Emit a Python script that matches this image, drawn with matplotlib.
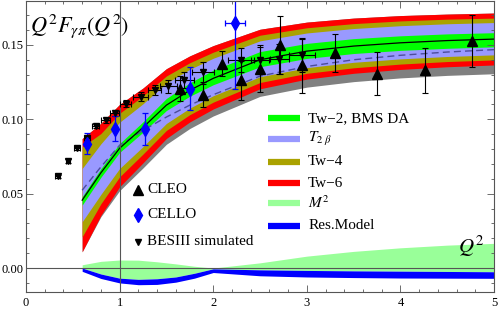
import matplotlib
matplotlib.use("Agg")
import matplotlib.pyplot as plt

plt.rcParams['font.family'] = ['Liberation Serif', 'DejaVu Serif']
plt.rcParams['mathtext.fontset'] = 'stix'

# band nodes in Q^2
q = [0.6, 0.8, 1.0, 1.25, 1.5, 1.75, 2.0, 2.5, 3.0, 3.5, 4.0, 4.5, 5.0]
tw2_line = [.0456, .0640, .0805, .0945, .1095, .1195, .1275, .1400, .1458, .1492, .1514, .1529, .1539]
dash_line = [.0523, .0680, .0825, .0925, .1015, .1095, .1165, .1290, .1355, .1400, .1430, .1452, .1468]
red_top = [.0870, .0973, .1100, .1210, .1340, .1426, .1495, .1605, .1653, .1680, .1697, .1707, .1714]
olive_top = [.0814, .0904, .1040, .1157, .1291, .1380, .1451, .1565, .1615, .1643, .1661, .1673, .1680]
blue_top = [.0669, .0835, .0980, .1104, .1243, .1336, .1410, .1527, .1580, .1610, .1629, .1642, .1650]
green_top = [.0479, .0668, .0837, .0983, .1140, .1245, .1330, .1455, .1510, .1542, .1561, .1574, .1582]
green_bot = [.0423, .0610, .0777, .0913, .1059, .1155, .1232, .1353, .1409, .1442, .1463, .1477, .1487]
blue_bot = [.0311, .0495, .0669, .0816, .0972, .1075, .1158, .1286, .1347, .1383, .1406, .1422, .1433]
olive_bot = [.0210, .0432, .0613, .0766, .0925, .1031, .1115, .1247, .1309, .1346, .1371, .1388, .1399]
red_bot = [.0109, .0354, .0546, .0707, .0871, .0982, .1069, .1205, .1270, .1309, .1335, .1353, .1365]
gray_bot = [.0109, .0345, .0520, .0673, .0832, .0938, .1022, .1154, .1216, .1253, .1278, .1295, .1306]

# small corrections near zero
q_low = [0.6, 0.8, 1.0, 1.2, 1.4, 1.6, 1.8, 2.0, 2.5, 3.0, 3.5, 4.0, 4.5, 5.0]
m2_top = [.0022, .0045, .0054, .0053, .0042, .0028, .0012, .0000, .0035, .0080, .0112, .0136, .0154, .0166]
res_top = [.0000, -.0040, -.0068, -.0076, -.0072, -.0060, -.0035, -.0005, -.0012, -.0016, -.0019, -.0021, -.0023, -.0025]
res_bot = [-.0022, -.0070, -.0100, -.0112, -.0110, -.0095, -.0068, -.0030, -.0052, -.0060, -.0064, -.0067, -.0068, -.0069]

# CLEO
cleo_q = [1.64, 1.89, 2.09, 2.30, 2.50, 2.71, 2.95, 3.30, 3.75, 4.26, 4.76]
cleo_y = [.1206, .1161, .1374, .1262, .1340, .1500, .1362, .1444, .1307, .1329, .1527]
cleo_err = [.0084, .0078, .0084, .0130, .0156, .0196, .0183, .0129, .0144, .0151, .0174]

# CELLO
cello_q = [0.655, 0.948, 1.276, 1.751, 2.232]
cello_y = [.0837, .0937, .0937, .1206, .1650]
cello_err = [.0073, .0084, .0108, .0145, .0444]
cello_xerr = [0, 0, 0, 0, 0.107]

# BESIII simulated
bes_q = [0.337, 0.448, 0.544, 0.651, 0.744, 0.851, 0.948, 1.065, 1.226, 1.376, 1.518, 1.690, 1.893, 2.293, 2.50, 2.707, 2.946]
bes_y = [.0617, .0720, .0807, .0877, .0953, .0993, .1045, .1105, .1150, .1195, .1221, .1266, .1317, .1396, .1396, .1407, .1430]
bes_err = [.0010, .0011, .0012, .0013, .0015, .0017, .0020, .0025, .0030, .0035, .0045, .0055, .0065, .0080, .0090, .0100, .0110]
bes_xerr = [.025, .025, .03, .035, .04, .045, .05, .06, .08, .07, .09, .10, .12, .14, .10, .10, .14]

fig = plt.figure(figsize=(4.98, 3.12), dpi=100)
ax = fig.add_axes([26 / 498, 20 / 312, 468 / 498, 291 / 312])

ax.fill_between(q, gray_bot, red_top, color='#808080', lw=0)
ax.fill_between(q, red_bot, red_top, color='#ff0000', lw=0)
ax.fill_between(q, olive_bot, olive_top, color='#aaa200', lw=0)
ax.fill_between(q, blue_bot, blue_top, color='#9999ff', lw=0)
ax.fill_between(q, green_bot, green_top, color='#00ff00', lw=0)
ax.plot(q, dash_line, color='#4c4c9c', lw=1, dashes=(5, 3))
ax.plot(q, tw2_line, color='black', lw=0.9)

ax.fill_between(q_low, res_top, m2_top, color='#99ff99', lw=0)
ax.fill_between(q_low, res_bot, res_top, color='#0000ff', lw=0)

ax.axhline(0, color='#555555', lw=0.8)
ax.axvline(1, color='#555555', lw=0.8)

ax.errorbar(bes_q, bes_y, yerr=bes_err, xerr=bes_xerr, fmt='v', color='black',
            ms=5, elinewidth=0.8, capsize=2.5, capthick=0.8)
ax.errorbar(cello_q, cello_y, yerr=cello_err, xerr=cello_xerr, fmt='d', color='#0000ff',
            ms=7, elinewidth=0.9, capsize=2.5, capthick=0.9)
ax.errorbar(cleo_q, cleo_y, yerr=cleo_err, fmt='^', color='black',
            ms=7.5, elinewidth=0.8, capsize=2.5, capthick=0.8)

ax.set_xlim(0, 5)
ax.set_ylim(-0.0161, 0.1795)
ax.set_xticks([0, 1, 2, 3, 4, 5])
ax.set_yticks([0.0, 0.05, 0.10, 0.15])
ax.set_yticklabels(['0.00', '0.05', '0.10', '0.15'])
ax.set_xticks([i * 0.2 for i in range(26)], minor=True)
ax.set_yticks([-0.01 + i * 0.01 for i in range(19)], minor=True)
ax.tick_params(which='both', direction='in', top=True, right=True,
               labelsize=9, width=0.6, color='#555555')
ax.tick_params(which='major', length=5)
ax.tick_params(which='minor', length=2.5)
ax.tick_params(axis='y', pad=2)
for s in ax.spines.values():
    s.set_color('#555555')
    s.set_linewidth(0.8)

ax.text(0.04, 0.1625, r'$Q^2F_{\gamma\pi}(Q^2)$', fontsize=16, va='center')
ax.text(4.75, 0.0148, r'$Q^2$', fontsize=15, va='center', ha='center')

# legend: data sets
left_items = [('^', 'black', 7, 'CLEO'), ('d', '#0000ff', 7, 'CELLO'),
              ('v', 'black', 5, 'BESIII simulated')]
left_rows = [0.351, 0.265, 0.173]
for (m, c, s, lab), ya in zip(left_items, left_rows):
    ax.plot([0.239], [ya], m, color=c, ms=s, transform=ax.transAxes)
    ax.text(0.259, ya, lab, fontsize=11, va='center', transform=ax.transAxes)

# legend: bands
right_items = [('#00ff00', 'Tw\u22122, BMS DA'), ('#9999ff', r'$T_{2\ \beta}$'),
               ('#aaa200', 'Tw\u22124'), ('#ff0000', 'Tw\u22126'),
               ('#99ff99', r'$M^2$'), ('#0000ff', 'Res.Model')]
right_rows = [0.597, 0.525, 0.448, 0.374, 0.307, 0.227]
for (c, lab), ya in zip(right_items, right_rows):
    ax.plot([0.517, 0.585], [ya, ya], color=c, lw=4.5, solid_capstyle='butt',
            transform=ax.transAxes)
    ax.text(0.603, ya, lab, fontsize=11, va='center', transform=ax.transAxes)

fig.savefig('out.png', dpi=100)
